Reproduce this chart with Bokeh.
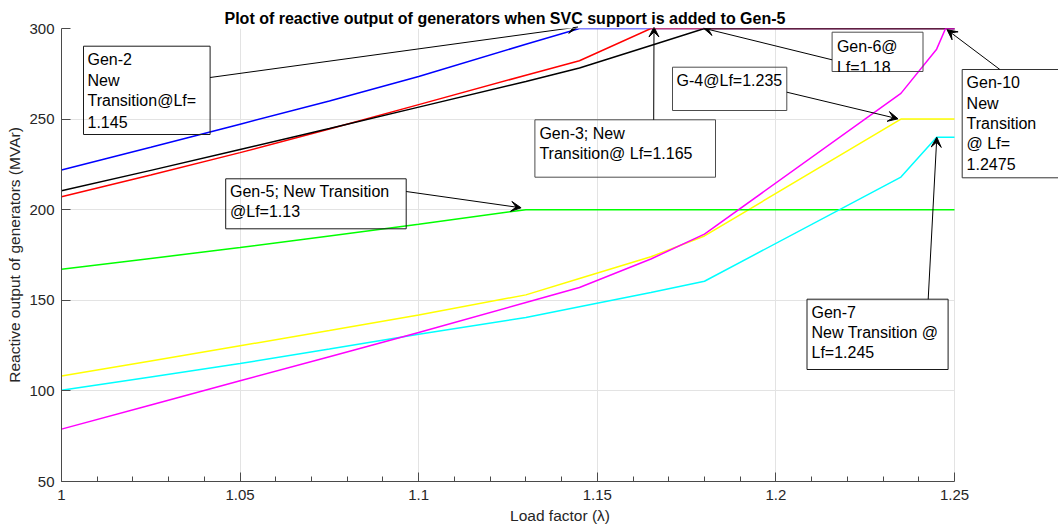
from bokeh.plotting import figure
from bokeh.models import FixedTicker, BoxAnnotation, Label, Arrow, VeeHead, Range1d, Grid
from bokeh.embed import file_html
from bokeh.resources import INLINE

# ---------------- data ----------------
load_factor = [1.0, 1.025, 1.05, 1.075, 1.1, 1.13, 1.145, 1.165, 1.18, 1.235, 1.245, 1.2475, 1.25]
gen2 = [221.9, 234.5, 247.2, 260.0, 273.5, 291.3, 300, 300, 300, 300, 300, 300, 300]
gen3 = [207.1, 219.2, 231.5, 244.5, 258.0, 274.2, 282.2, 300, 300, 300, 300, 300, 300]
gen4 = [108.2, 116.5, 124.9, 133.3, 141.9, 153.0, 162.0, 174.0, 185.5, 250, 250, 250, 250]
gen5 = [167.2, 173.1, 179.1, 185.5, 192.0, 200, 200, 200, 200, 200, 200, 200, 200]
gen6 = [210.4, 221.7, 233.2, 244.8, 256.6, 270.8, 278.2, 290.6, 300, 300, 300, 300, 300]
gen7 = [100.4, 107.7, 115.1, 123.1, 131.3, 140.5, 146.5, 154.3, 160.5, 218.0, 240.0, 240, 240]
gen10 = [78.9, 92.2, 105.6, 118.9, 132.2, 148.8, 157.1, 172.8, 186.5, 264.2, 288.6, 300, 300]

x_ticks = [1.0, 1.05, 1.1, 1.15, 1.2, 1.25]
x_tick_labels = ["1", "1.05", "1.1", "1.15", "1.2", "1.25"]
x_minor_ticks = [1.01, 1.02, 1.03, 1.04, 1.06, 1.07, 1.08, 1.09, 1.11, 1.12, 1.13, 1.14,
                 1.16, 1.17, 1.18, 1.19, 1.21, 1.22, 1.23, 1.24]
y_ticks = [50, 100, 150, 200, 250, 300]

title_text = "Plot of reactive output of generators when SVC support is added to Gen-5"
x_label = "Load factor (\u03bb)"
y_label = "Reactive output of generators (MVAr)"

# ---------------- layout ----------------
W, H = 1058, 531
FL, FT, FB = 61, 28, 481          # frame left/top/bottom in pixels
AXR = 954                         # pixel where the x axis ends (x = 1.25)
X0, X1, Y0, Y1 = 1.0, 1.25, 50, 300
FONT = "Liberation Sans"
TEXT_DY = 6                       # rendering offset correction for note text


def px2x(px):
    return X0 + (px - FL) * (X1 - X0) / (AXR - FL)


def py2y(py):
    return Y1 - (py - FT) * (Y1 - Y0) / (FB - FT)


# frame reaches the right edge of the page so the Gen-10 note can sit beside the axes
p = figure(width=W, height=H, x_range=Range1d(X0, px2x(W)), y_range=Range1d(Y0, Y1),
           output_backend="svg", toolbar_location=None,
           min_border_left=FL, min_border_right=0,
           min_border_top=FT, min_border_bottom=H - FB)

p.title.text = title_text
p.title.align = "left"
p.title.offset = 163
p.title.text_font = FONT
p.title.text_font_size = "16px"
p.title.text_font_style = "bold"
p.title.text_color = "#000000"
p.title.standoff = 3

p.outline_line_color = None
p.background_fill_color = "white"
p.border_fill_color = "white"

AX = "#4a4a4a"
for ax in (p.xaxis[0], p.yaxis[0]):
    ax.axis_line_color = AX
    ax.major_tick_line_color = AX
    ax.minor_tick_line_color = AX
    ax.major_tick_in = 9
    ax.major_tick_out = 0
    ax.minor_tick_in = 5
    ax.minor_tick_out = 0
    ax.major_label_text_font = FONT
    ax.major_label_text_font_size = "15px"
    ax.major_label_text_color = "#262626"
    ax.axis_label_text_font = FONT
    ax.axis_label_text_font_size = "15.5px"
    ax.axis_label_text_font_style = "normal"
    ax.axis_label_text_color = "#262626"

p.xaxis[0].ticker = FixedTicker(ticks=x_ticks, minor_ticks=x_minor_ticks)
p.xaxis[0].bounds = (X0, X1)
p.xaxis[0].major_label_overrides = {t: s for t, s in zip(x_ticks, x_tick_labels)}
p.xaxis[0].major_label_standoff = 8
p.xaxis[0].axis_label = x_label
p.xaxis[0].axis_label_standoff = 4

p.yaxis[0].ticker = FixedTicker(ticks=y_ticks)
p.yaxis[0].minor_tick_line_color = None
p.yaxis[0].major_label_standoff = 7
p.yaxis[0].axis_label = y_label
p.yaxis[0].axis_label_standoff = 3

GRID = "#e3e3e3"
p.xgrid[0].ticker = FixedTicker(ticks=x_ticks)
p.xgrid[0].grid_line_color = GRID
if "cross_bounds" in Grid.properties():
    p.ygrid[0].ticker = FixedTicker(ticks=y_ticks)
    p.ygrid[0].cross_bounds = (X0, X1)
    p.ygrid[0].grid_line_color = GRID
else:
    p.ygrid[0].grid_line_color = None
    p.segment(x0=[X0] * len(y_ticks), y0=y_ticks, x1=[X1] * len(y_ticks), y1=y_ticks,
              line_color=GRID, line_width=1, level="underlay")

# ---------------- series ----------------
series = [
    (gen2, "#0000ff"),
    (gen3, "#ff0000"),
    (gen4, "#ffff00"),
    (gen5, "#00ff00"),
    (gen6, "#000000"),
    (gen7, "#00ffff"),
    (gen10, "#ff00ff"),
]
for vals, col in series:
    p.line(load_factor, vals, line_color=col, line_width=1.5)

# ---------------- annotations (positions given in pixels, mapped to data) ----------------
boxes = [
    (83, 45.7, 209.6, 134, "#1a1a1a"),        # Gen-2
    (534.4, 119.3, 715, 176.7, "#4d4d4d"),    # Gen-3
    (831.6, 31.7, 922.5, 71, "#4d4d4d"),      # Gen-6
    (672, 66.7, 786.3, 110, "#4d4d4d"),       # G-4
    (961.7, 69, 1080, 177.3, "#333333"),      # Gen-10
    (225.2, 178.3, 405.7, 228.3, "#1a1a1a"),  # Gen-5
    (806.5, 298.7, 947.6, 369, "#1a1a1a"),    # Gen-7
]
for l, t, r, b, c in boxes:
    p.add_layout(BoxAnnotation(left=px2x(l), right=px2x(r), top=py2y(t), bottom=py2y(b),
                               fill_color=None, fill_alpha=0, line_color=c,
                               line_alpha=1, line_width=1))

texts = [
    (87, [65, 85.7, 106.3, 127], ["Gen-2", "New", "Transition@Lf=", "1.145"]),
    (538.9, [139.3, 159.3], ["Gen-3; New", "Transition@ Lf=1.165"]),
    (836.4, [51.7, 73.3], ["Gen-6@", "Lf=1.18"]),
    (676.1, [86], ["G-4@Lf=1.235"]),
    (966.1, [88.3, 108.7, 129.1, 149.3, 169.3], ["Gen-10", "New", "Transition", "@ Lf=", "1.2475"]),
    (229.5, [197.3, 217.3], ["Gen-5; New Transition", "@Lf=1.13"]),
    (811, [318.3, 338.3, 358.3], ["Gen-7", "New Transition @", "Lf=1.245"]),
]
for x, ys, lines in texts:
    for yb, s in zip(ys, lines):
        p.add_layout(Label(x=px2x(x), y=py2y(yb - TEXT_DY), text=s, text_font=FONT,
                           text_font_size="16px", text_color="#000000",
                           text_align="left", text_baseline="alphabetic"))

# the Gen-6 note's second line is cut off by its box edge in the original
p.add_layout(BoxAnnotation(left=px2x(834), right=px2x(900), top=py2y(71.6), bottom=py2y(78),
                           fill_color="white", fill_alpha=1, line_color=None))

arrows = [
    (209.6, 77, 577.5, 26.5),     # Gen-2
    (653.2, 119.3, 653.5, 26.5),  # Gen-3
    (831.6, 59.3, 703, 27.7),     # Gen-6
    (786.3, 91.7, 897.5, 118.3),  # G-4
    (999.4, 69, 946.6, 29.3),     # Gen-10
    (405.7, 191, 520.6, 207.3),   # Gen-5
    (927.7, 298.7, 936.3, 136.7), # Gen-7
]
for xs, ys, xe, ye in arrows:
    p.add_layout(Arrow(x_start=px2x(xs), y_start=py2y(ys), x_end=px2x(xe), y_end=py2y(ye),
                       line_color="#000000", line_width=1,
                       end=VeeHead(size=10, fill_color="#000000", line_color="#000000",
                                   line_width=1)))

open("out.html", "w").write(file_html(p, INLINE))
